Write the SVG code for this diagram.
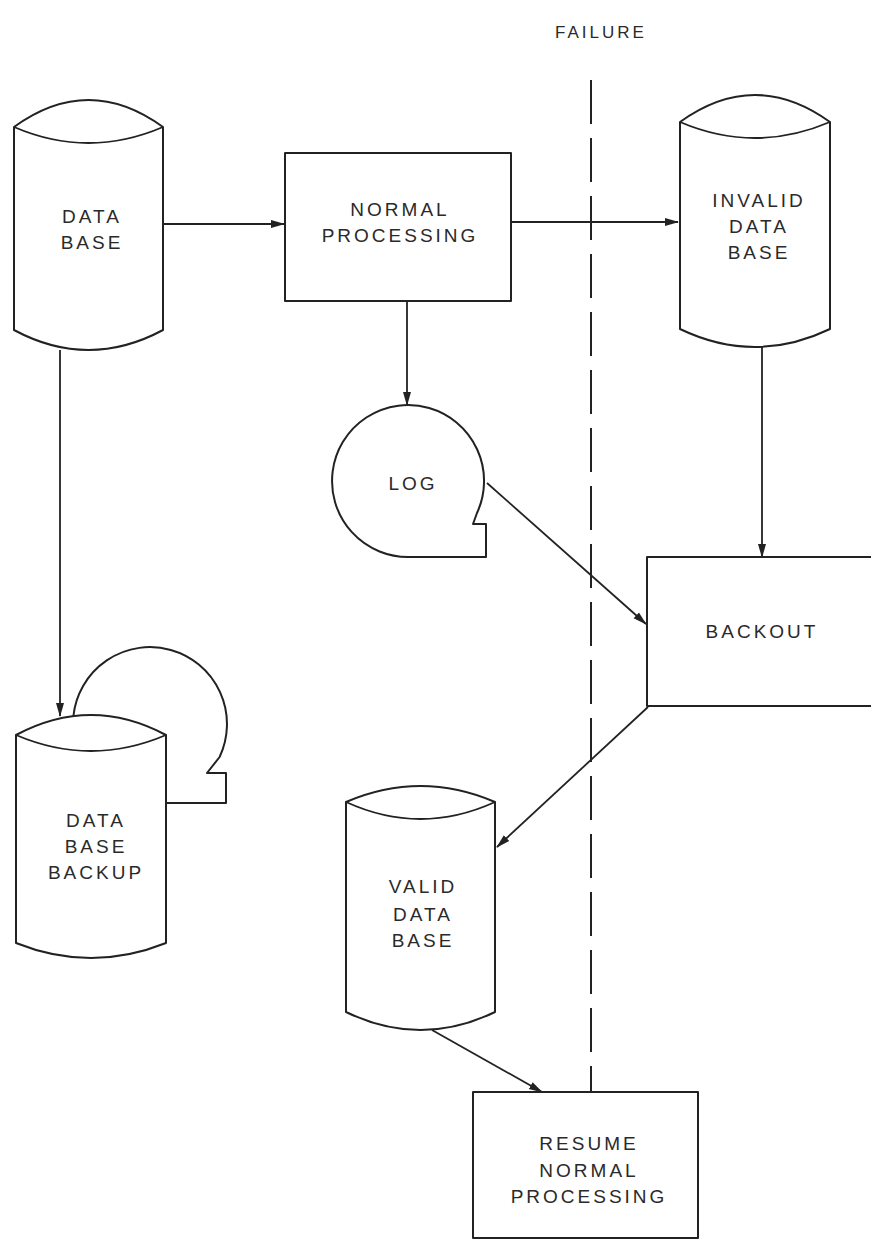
<svg xmlns="http://www.w3.org/2000/svg" width="871" height="1242" viewBox="0 0 871 1242">
<defs>
<marker id="arr" markerWidth="14" markerHeight="10" refX="13" refY="5" orient="auto" markerUnits="userSpaceOnUse">
<path d="M0,1 L14,5 L0,9 Z" fill="#222"/>
</marker>
<style>
.s{fill:#fff;stroke:#222;stroke-width:2;stroke-linejoin:round}
.l{fill:none;stroke:#222;stroke-width:1.8}
.c{fill:none;stroke:#222;stroke-width:1.8;marker-end:url(#arr)}
.t{font-family:"Liberation Sans",Arial,sans-serif;font-size:19px;fill:#2a2a2a;text-anchor:middle;letter-spacing:3px}
</style>
</defs>
<rect width="871" height="1242" fill="#fff"/>
<text class="t" x="601" y="38" style="font-size:17px">FAILURE</text>
<line x1="591" y1="80" x2="591" y2="1092" stroke="#222" stroke-width="2" stroke-dasharray="44 14"/>
<g id="connectors">
<line class="c" x1="163" y1="224" x2="284" y2="224"/>
<line class="c" x1="511" y1="222" x2="678" y2="222"/>
<line class="c" x1="407" y1="301" x2="407" y2="405"/>
<line class="c" x1="762" y1="347" x2="762" y2="557"/>
<line class="c" x1="487" y1="483" x2="646" y2="624"/>
<line class="c" x1="648" y1="707" x2="497" y2="847"/>
<line class="c" x1="432" y1="1030" x2="542" y2="1092"/>
<line class="c" x1="60" y1="350" x2="60" y2="716"/>
</g>
<g id="backup-tape">
<path class="s" d="M73.4,716 A77,77 0 1 1 219.6,757 L207,773 L226,773 L226,803 L166,803 Z"/>
</g>
<g id="database">
<path class="s" d="M14,127 Q88.5,73 163,127 L163,330 Q88.5,370 14,330 Z"/>
<path class="l" d="M14,127 Q88.5,159 163,127"/>
<text class="t" x="92" y="223">DATA</text>
<text class="t" x="92" y="249">BASE</text>
</g>
<g id="normal-processing">
<rect class="s" x="285" y="153" width="226" height="148"/>
<text class="t" x="400" y="216">NORMAL</text>
<text class="t" x="400" y="242">PROCESSING</text>
</g>
<g id="invalid-database">
<path class="s" d="M680,122 Q755,68 830,122 L830,329 Q755,365 680,329 Z"/>
<path class="l" d="M680,122 Q755,154 830,122"/>
<text class="t" x="759" y="207">INVALID</text>
<text class="t" x="759" y="233">DATA</text>
<text class="t" x="759" y="259">BASE</text>
</g>
<g id="log">
<path class="s" d="M477,513 A76,76 0 1 0 410,557 L486,557 L486,524 L473,524 Z"/>
<text class="t" x="413" y="490">LOG</text>
</g>
<g id="backout">
<rect class="s" x="647" y="557" width="240" height="149"/>
<text class="t" x="762" y="638">BACKOUT</text>
</g>
<g id="database-backup">
<path class="s" d="M16,735 Q91,695 166,735 L166,943 Q91,973 16,943 Z"/>
<path class="l" d="M16,735 Q91,767 166,735"/>
<text class="t" x="96" y="827">DATA</text>
<text class="t" x="96" y="853">BASE</text>
<text class="t" x="96" y="879">BACKUP</text>
</g>
<g id="valid-database">
<path class="s" d="M346,802 Q420.5,770 495,802 L495,1012 Q420.5,1048 346,1012 Z"/>
<path class="l" d="M346,802 Q420.5,836 495,802"/>
<text class="t" x="423" y="893">VALID</text>
<text class="t" x="423" y="921">DATA</text>
<text class="t" x="423" y="947">BASE</text>
</g>
<g id="resume">
<rect class="s" x="473" y="1092" width="225" height="146"/>
<text class="t" x="589" y="1150">RESUME</text>
<text class="t" x="589" y="1177">NORMAL</text>
<text class="t" x="589" y="1203">PROCESSING</text>
</g>
</svg>
